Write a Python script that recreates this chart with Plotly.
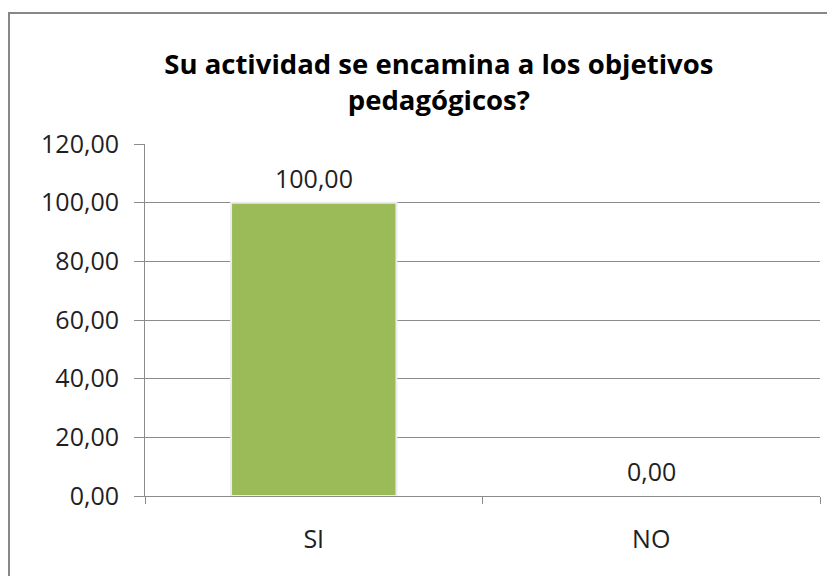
import plotly.graph_objects as go

# datos de la encuesta
categorias = ["SI", "NO"]
porcentajes = [100.00, 0.00]
etiquetas = ["100,00", "0,00"]
titulo = "Su actividad se encamina a los objetivos<br>pedagógicos?"

fig = go.Figure()
fig.add_trace(go.Bar(x=categorias, y=porcentajes, width=0.49,
                     marker=dict(color="#9BBB59",
                                 line=dict(color="#ececec", width=[2 if v > 0 else 0 for v in porcentajes])),
                     hoverinfo="skip"))

for c, v, t in zip(categorias, porcentajes, etiquetas):
    fig.add_annotation(x=c, y=v, text=t, showarrow=False, yanchor="middle", yshift=25,
                       font=dict(size=25, color="#1f1f1f"))

# borde del grafico (como Excel)
fig.add_shape(type="rect", xref="paper", yref="paper", x0=-0.2015, x1=1.2, y0=-0.4, y1=1.372,
              line=dict(color="#878787", width=2), fillcolor="rgba(0,0,0,0)", layer="below")

# la pagina tiene 8px de margen, por eso 827x568
fig.update_layout(
    width=827, height=568,
    margin=dict(l=137, r=15, t=136, b=80),
    paper_bgcolor="white", plot_bgcolor="white",
    font=dict(family="Open Sans", size=25, color="#1f1f1f"),
    separators=",.",
    showlegend=False,
    title=dict(text=titulo, x=0.521, xanchor="center", y=0.884, yanchor="middle",
               font=dict(size=27.5, color="black", family="Open Sans", weight="bold")),
)
fig.update_yaxes(range=[0, 120], dtick=20, tickformat=".2f", showgrid=True, gridcolor="#8c8c8c",
                 gridwidth=1, showline=True, linecolor="#8c8c8c", ticks="outside", ticklen=10,
                 tickcolor="#8c8c8c", zeroline=False, ticklabelstandoff=10)
fig.update_xaxes(showline=True, linecolor="#8c8c8c", ticks="outside", tickson="boundaries",
                 ticklen=7, tickcolor="#8c8c8c", ticklabelstandoff=21)

fig.write_html("out.html")
